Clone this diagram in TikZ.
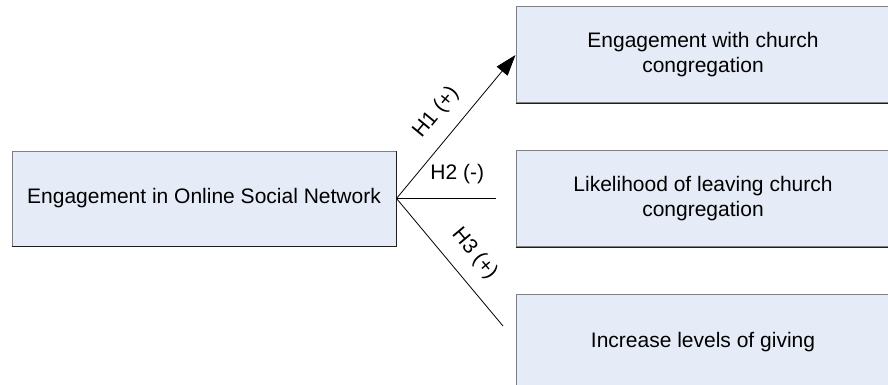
\documentclass[tikz,border=0pt]{standalone}
\usepackage{fontspec}
\setmainfont{Liberation Sans}
\usetikzlibrary{arrows.meta}
\definecolor{boxfill}{RGB}{230,236,247}
\definecolor{boxedge}{RGB}{128,128,128}
\definecolor{boxshade}{RGB}{30,30,30}
\tikzset{
  box/.style={draw=boxedge, fill=boxfill, line width=1pt, inner sep=0pt,
    align=center, font=\fontsize{21}{25}\selectfont, text=black},
  shade/.style={draw=boxshade, line width=1pt},
  link/.style={draw=black, line width=0.8pt},
  hlabel/.style={font=\fontsize{21}{25}\selectfont, inner sep=0pt, sloped},
}
\begin{document}
\begin{tikzpicture}[x=1pt,y=-1pt]
\useasboundingbox (0,0) rectangle (888,385);
\node[box, minimum width=384pt, minimum height=95pt] (src) at (204,198.5) {Engagement in Online Social Network};
\node[box, minimum width=374pt, minimum height=96pt] (t1) at (703,55) {Engagement with church\\congregation};
\node[box, minimum width=374pt, minimum height=96pt] (t2) at (703,198.5) {Likelihood of leaving church\\congregation};
\node[box, minimum width=374pt, minimum height=96pt] (t3) at (703,342) {Increase levels of giving};
\draw[shade] (src.south west) -- (src.south east) -- (src.north east);
\draw[shade] (t1.south west) -- (t1.south east);
\draw[shade] (t2.south west) -- (t2.south east);
\coordinate (e2) at (496,198.5);
\coordinate (e3) at (503,326);
\draw[link, -{Triangle[length=21pt,width=14pt]}] (src.east) -- node[hlabel, pos=0.49, above=14pt] {H1 (+)} (t1.west);
\draw[link] (src.east) -- node[hlabel, pos=0.61, above=14pt] {H2 (-)} (e2);
\draw[link] (src.east) -- node[hlabel, pos=0.557, above=14pt] {H3 (+)} (e3);
\end{tikzpicture}
\end{document}
